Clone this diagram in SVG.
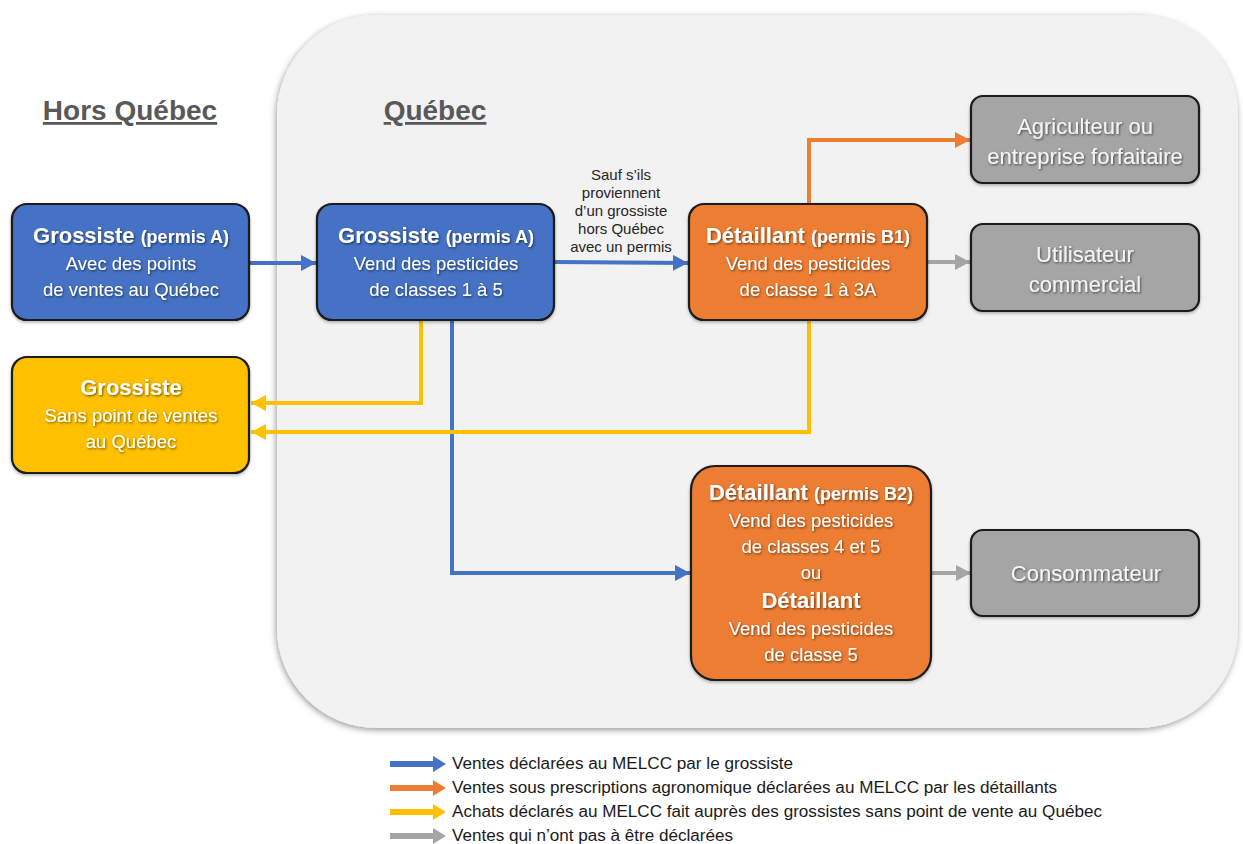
<svg xmlns="http://www.w3.org/2000/svg" width="1243" height="844" viewBox="0 0 1243 844">
<defs>
<style>
.box{stroke:#1a1a1a;stroke-width:2.2}
.blue{fill:#4472c4}.orange{fill:#ed7d31}.yellow{fill:#ffc000}.gray{fill:#a5a5a5}
.t{font-family:"Liberation Sans",Arial,sans-serif;fill:#ffffff;text-anchor:middle}
.h{font-weight:bold;font-size:22px}
.hs{font-weight:bold;font-size:18px}
.b{font-size:18.5px}
.g{font-size:22px;fill:#f4f4f4}
.title{font-family:"Liberation Sans",Arial,sans-serif;font-weight:bold;font-size:28px;fill:#595959;text-anchor:middle;text-decoration:underline}
.lbl{font-family:"Liberation Sans",Arial,sans-serif;font-size:15px;fill:#262626;text-anchor:middle}
.leg{font-family:"Liberation Sans",Arial,sans-serif;font-size:16px;fill:#1a1a1a}
.c{fill:none;stroke-width:4}
</style>
<filter id="ts" x="-10%" y="-30%" width="120%" height="160%">
<feDropShadow dx="1" dy="1.2" stdDeviation="0.8" flood-color="#000" flood-opacity="0.55"/>
</filter>
<filter id="cs" x="-5%" y="-5%" width="110%" height="110%">
<feDropShadow dx="-1" dy="2" stdDeviation="3" flood-color="#000" flood-opacity="0.4"/>
</filter>
<filter id="bs" x="-5%" y="-5%" width="110%" height="115%">
<feDropShadow dx="0" dy="1.5" stdDeviation="1.5" flood-color="#000" flood-opacity="0.3"/>
</filter>
<marker id="mb" markerUnits="userSpaceOnUse" markerWidth="16" markerHeight="16" refX="15" refY="8" orient="auto"><path d="M0,0 L15,8 L0,16 Z" fill="#4472c4"/></marker>
<marker id="mo" markerUnits="userSpaceOnUse" markerWidth="16" markerHeight="16" refX="15" refY="8" orient="auto"><path d="M0,0 L15,8 L0,16 Z" fill="#ed7d31"/></marker>
<marker id="my" markerUnits="userSpaceOnUse" markerWidth="16" markerHeight="16" refX="15" refY="8" orient="auto"><path d="M0,0 L15,8 L0,16 Z" fill="#ffc000"/></marker>
<marker id="mg" markerUnits="userSpaceOnUse" markerWidth="16" markerHeight="16" refX="15" refY="8" orient="auto"><path d="M0,0 L15,8 L0,16 Z" fill="#a5a5a5"/></marker>
</defs>
<rect width="1243" height="844" fill="#ffffff"/>
<g id="quebec-zone">
<rect x="277" y="15" width="961" height="713" rx="100" ry="100" fill="#f2f2f2" filter="url(#cs)"/>
</g>
<g id="titles">
<text class="title" x="130" y="120">Hors Québec</text>
<text class="title" x="435" y="120">Québec</text>
</g>
<g id="connectors">
<path class="c" stroke="#4472c4" d="M250,263 L316,263" marker-end="url(#mb)"/>
<path class="c" stroke="#4472c4" d="M555,262 L688,263" marker-end="url(#mb)"/>
<path class="c" stroke="#4472c4" d="M452,321 L452,573 L690,573" marker-end="url(#mb)"/>
<path class="c" stroke="#ed7d31" d="M809,203 L809,140 L970,140" marker-end="url(#mo)"/>
<path class="c" stroke="#ffc000" d="M421,321 L421,403 L251,403" marker-end="url(#my)"/>
<path class="c" stroke="#ffc000" d="M809,321 L809,432 L251,432" marker-end="url(#my)"/>
<path class="c" stroke="#a5a5a5" d="M928,262 L970,262" marker-end="url(#mg)"/>
<path class="c" stroke="#a5a5a5" d="M932,573 L971,573" marker-end="url(#mg)"/>
<text class="lbl" x="621" y="180">Sauf s’ils</text>
<text class="lbl" x="621" y="198">proviennent</text>
<text class="lbl" x="621" y="216">d’un grossiste</text>
<text class="lbl" x="621" y="234">hors Québec</text>
<text class="lbl" x="621" y="252">avec un permis</text>
</g>
<g id="grossiste-hors-quebec">
<rect class="box blue" x="12" y="204" width="237" height="116" rx="15" filter="url(#bs)"/>
<g filter="url(#ts)">
<text class="t" x="131" y="243"><tspan class="h">Grossiste </tspan><tspan class="hs">(permis A)</tspan></text>
<text class="t b" x="131" y="270">Avec des points</text>
<text class="t b" x="131" y="296">de ventes au Québec</text>
</g>
</g>
<g id="grossiste-sans-point">
<rect class="box yellow" x="12" y="357" width="237" height="116" rx="15" filter="url(#bs)"/>
<g filter="url(#ts)">
<text class="t h" x="131" y="395">Grossiste</text>
<text class="t b" x="131" y="422">Sans point de ventes</text>
<text class="t b" x="131" y="448">au Québec</text>
</g>
</g>
<g id="grossiste-quebec">
<rect class="box blue" x="317" y="204" width="237" height="116" rx="15" filter="url(#bs)"/>
<g filter="url(#ts)">
<text class="t" x="436" y="243"><tspan class="h">Grossiste </tspan><tspan class="hs">(permis A)</tspan></text>
<text class="t b" x="436" y="270">Vend des pesticides</text>
<text class="t b" x="436" y="296">de classes 1 à 5</text>
</g>
</g>
<g id="detaillant-b1">
<rect class="box orange" x="689" y="204" width="238" height="116" rx="15" filter="url(#bs)"/>
<g filter="url(#ts)">
<text class="t" x="808" y="243"><tspan class="h">Détaillant </tspan><tspan class="hs">(permis B1)</tspan></text>
<text class="t b" x="808" y="270">Vend des pesticides</text>
<text class="t b" x="808" y="296">de classe 1 à 3A</text>
</g>
</g>
<g id="agriculteur">
<rect class="box gray" x="971" y="96" width="228" height="87" rx="12" filter="url(#bs)"/>
<g filter="url(#ts)">
<text class="t g" x="1085" y="134">Agriculteur ou</text>
<text class="t g" x="1085" y="164">entreprise forfaitaire</text>
</g>
</g>
<g id="utilisateur-commercial">
<rect class="box gray" x="971" y="224" width="228" height="87" rx="12" filter="url(#bs)"/>
<g filter="url(#ts)">
<text class="t g" x="1085" y="262">Utilisateur</text>
<text class="t g" x="1085" y="292">commercial</text>
</g>
</g>
<g id="detaillant-b2">
<rect class="box orange" x="691" y="466" width="240" height="214" rx="24" filter="url(#bs)"/>
<g filter="url(#ts)">
<text class="t" x="811" y="500"><tspan class="h">Détaillant </tspan><tspan class="hs">(permis B2)</tspan></text>
<text class="t b" x="811" y="527">Vend des pesticides</text>
<text class="t b" x="811" y="553">de classes 4 et 5</text>
<text class="t b" x="811" y="579">ou</text>
<text class="t h" x="811" y="608">Détaillant</text>
<text class="t b" x="811" y="635">Vend des pesticides</text>
<text class="t b" x="811" y="661">de classe 5</text>
</g>
</g>
<g id="consommateur">
<rect class="box gray" x="971" y="530" width="228" height="86" rx="12" filter="url(#bs)"/>
<g filter="url(#ts)">
<text class="t g" x="1086" y="581">Consommateur</text>
</g>
</g>
<g id="legend">
<path fill="#4472c4" d="M390,761 L433,761 L433,756 L446,764 L433,772 L433,767 L390,767 Z"/>
<path fill="#ed7d31" d="M390,785 L433,785 L433,780 L446,788 L433,796 L433,791 L390,791 Z"/>
<path fill="#ffc000" d="M390,809 L433,809 L433,804 L446,812 L433,820 L433,815 L390,815 Z"/>
<path fill="#a5a5a5" d="M390,833 L433,833 L433,828 L446,836 L433,844 L433,839 L390,839 Z"/>
<text class="leg" x="452" y="769" textLength="341" lengthAdjust="spacingAndGlyphs">Ventes déclarées au MELCC par le grossiste</text>
<text class="leg" x="452" y="793" textLength="605" lengthAdjust="spacingAndGlyphs">Ventes sous prescriptions agronomique déclarées au MELCC par les détaillants</text>
<text class="leg" x="452" y="817" textLength="650" lengthAdjust="spacingAndGlyphs">Achats déclarés au MELCC fait auprès des grossistes sans point de vente au Québec</text>
<text class="leg" x="452" y="841" textLength="281" lengthAdjust="spacingAndGlyphs">Ventes qui n’ont pas à être déclarées</text>
</g>
</svg>
